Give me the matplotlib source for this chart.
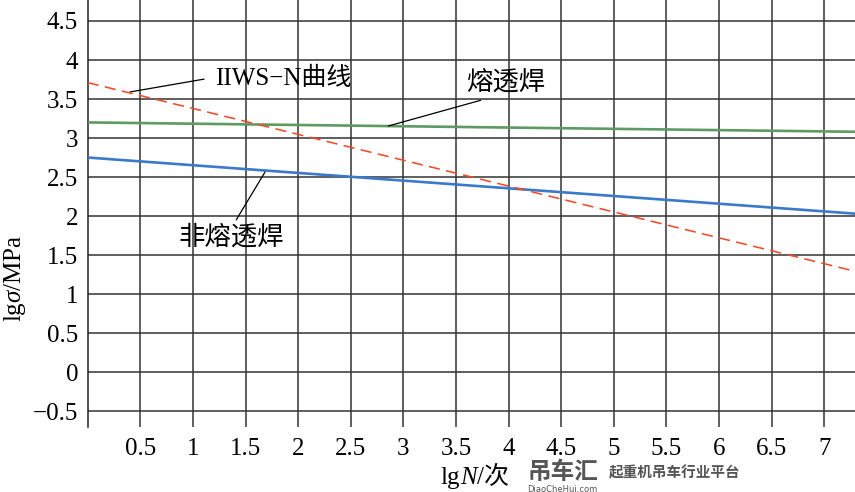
import matplotlib
matplotlib.use("Agg")
import matplotlib.pyplot as plt

plt.rcParams['font.family'] = ['Liberation Serif', 'Noto Sans CJK SC']
plt.rcParams['mathtext.fontset'] = 'custom'
plt.rcParams['mathtext.rm'] = 'Liberation Serif'
plt.rcParams['mathtext.it'] = 'Liberation Serif:italic'
plt.rcParams['axes.unicode_minus'] = True

# lgN end points and lg(sigma) for each curve (straight lines)
lgN = [0, 7.3]
full_pen = [3.20, 3.08]      # 熔透焊
partial_pen = [2.75, 2.03]   # 非熔透焊
iiw_curve = [3.71, 1.29]     # IIWS-N曲线

xticks = [0.5, 1, 1.5, 2, 2.5, 3, 3.5, 4, 4.5, 5, 5.5, 6, 6.5, 7]
yticks = [-0.5, 0, 0.5, 1, 1.5, 2, 2.5, 3, 3.5, 4, 4.5]

fig = plt.figure(figsize=(8.55, 4.92), dpi=100)
ax = fig.add_axes([0.1026, 0.1327, 0.8974, 0.8673])

ax.plot(lgN, full_pen, color='#5e9a62', lw=1.9, zorder=3)
ax.plot(lgN, partial_pen, color='#3b79c9', lw=1.9, zorder=3)
ax.plot(lgN, iiw_curve, color='#f04a2a', lw=1.15, dashes=(7, 4), zorder=4)

ax.set_xlim(0, 7.293)
ax.set_ylim(-0.7, 4.769)
ax.set_xticks(xticks)
ax.set_yticks(yticks)
ax.set_xticklabels([f"{v:g}" for v in xticks])
ax.set_yticklabels([f"{v:g}".replace('-', '\u2212') for v in yticks])
ax.tick_params(length=0, labelsize=18)
ax.tick_params(axis='x', pad=8)
ax.tick_params(axis='y', pad=7)
ax.grid(True, color='#333333', lw=1.1)
ax.set_axisbelow(True)
for s in ['top', 'right', 'bottom']:
    ax.spines[s].set_visible(False)
ax.spines['left'].set_color('#222222')
ax.spines['left'].set_linewidth(1.1)

# annotations with leader lines
ax.annotate('IIWS\u2212N曲线', xy=(0.40, 3.59), xytext=(1.21, 3.77),
            fontsize=18, va='center', ha='left',
            arrowprops=dict(arrowstyle='-', color='black', lw=0.9,
                            shrinkA=0, shrinkB=0, relpos=(-0.08, 0.45)))
ax.annotate('熔透焊', xy=(2.857, 3.154), xytext=(3.60, 3.72),
            fontsize=19, va='center', ha='left',
            arrowprops=dict(arrowstyle='-', color='black', lw=0.9,
                            shrinkA=0, shrinkB=0, relpos=(0.18, -0.25)))
ax.annotate('非熔透焊', xy=(1.685, 2.564), xytext=(0.86, 1.73),
            fontsize=19, va='center', ha='left',
            arrowprops=dict(arrowstyle='-', color='black', lw=0.9,
                            shrinkA=0, shrinkB=0, relpos=(0.55, 1.2)))

fig.text(0.018, 0.435, r'lg$\sigma$/MPa', rotation=90, fontsize=18,
         ha='center', va='center')

# x label "lgN/次" built from pieces (mathtext can't fall back to CJK)
fig.canvas.draw()
renderer = fig.canvas.get_renderer()
x0 = 0.515 * 855
t = fig.text(x0 / 855, 0.016, 'lg', fontsize=18, ha='left', va='baseline')
x0 = t.get_window_extent(renderer).x1 + 0.5
t = fig.text(x0 / 855, 0.016, 'N', fontsize=18, style='italic',
             ha='left', va='baseline')
x0 = t.get_window_extent(renderer).x1 + 0.5
fig.text(x0 / 855, 0.016, '/次', fontsize=18, ha='left', va='baseline')

# watermark
fig.text(0.617, 0.04, '吊车汇', fontsize=17, color='#555555',
         fontweight='bold', family='Noto Sans CJK SC', ha='left', va='center')
fig.text(0.617, 0.006, 'DiaoCheHui.com', fontsize=6, color='#555555',
         family='DejaVu Sans', ha='left', va='center')
fig.text(0.712, 0.04, '起重机吊车行业平台', fontsize=10.5, color='#555555',
         fontweight='bold', style='italic', family='Noto Sans CJK SC',
         ha='left', va='center')

fig.savefig('out.png', dpi=100)
